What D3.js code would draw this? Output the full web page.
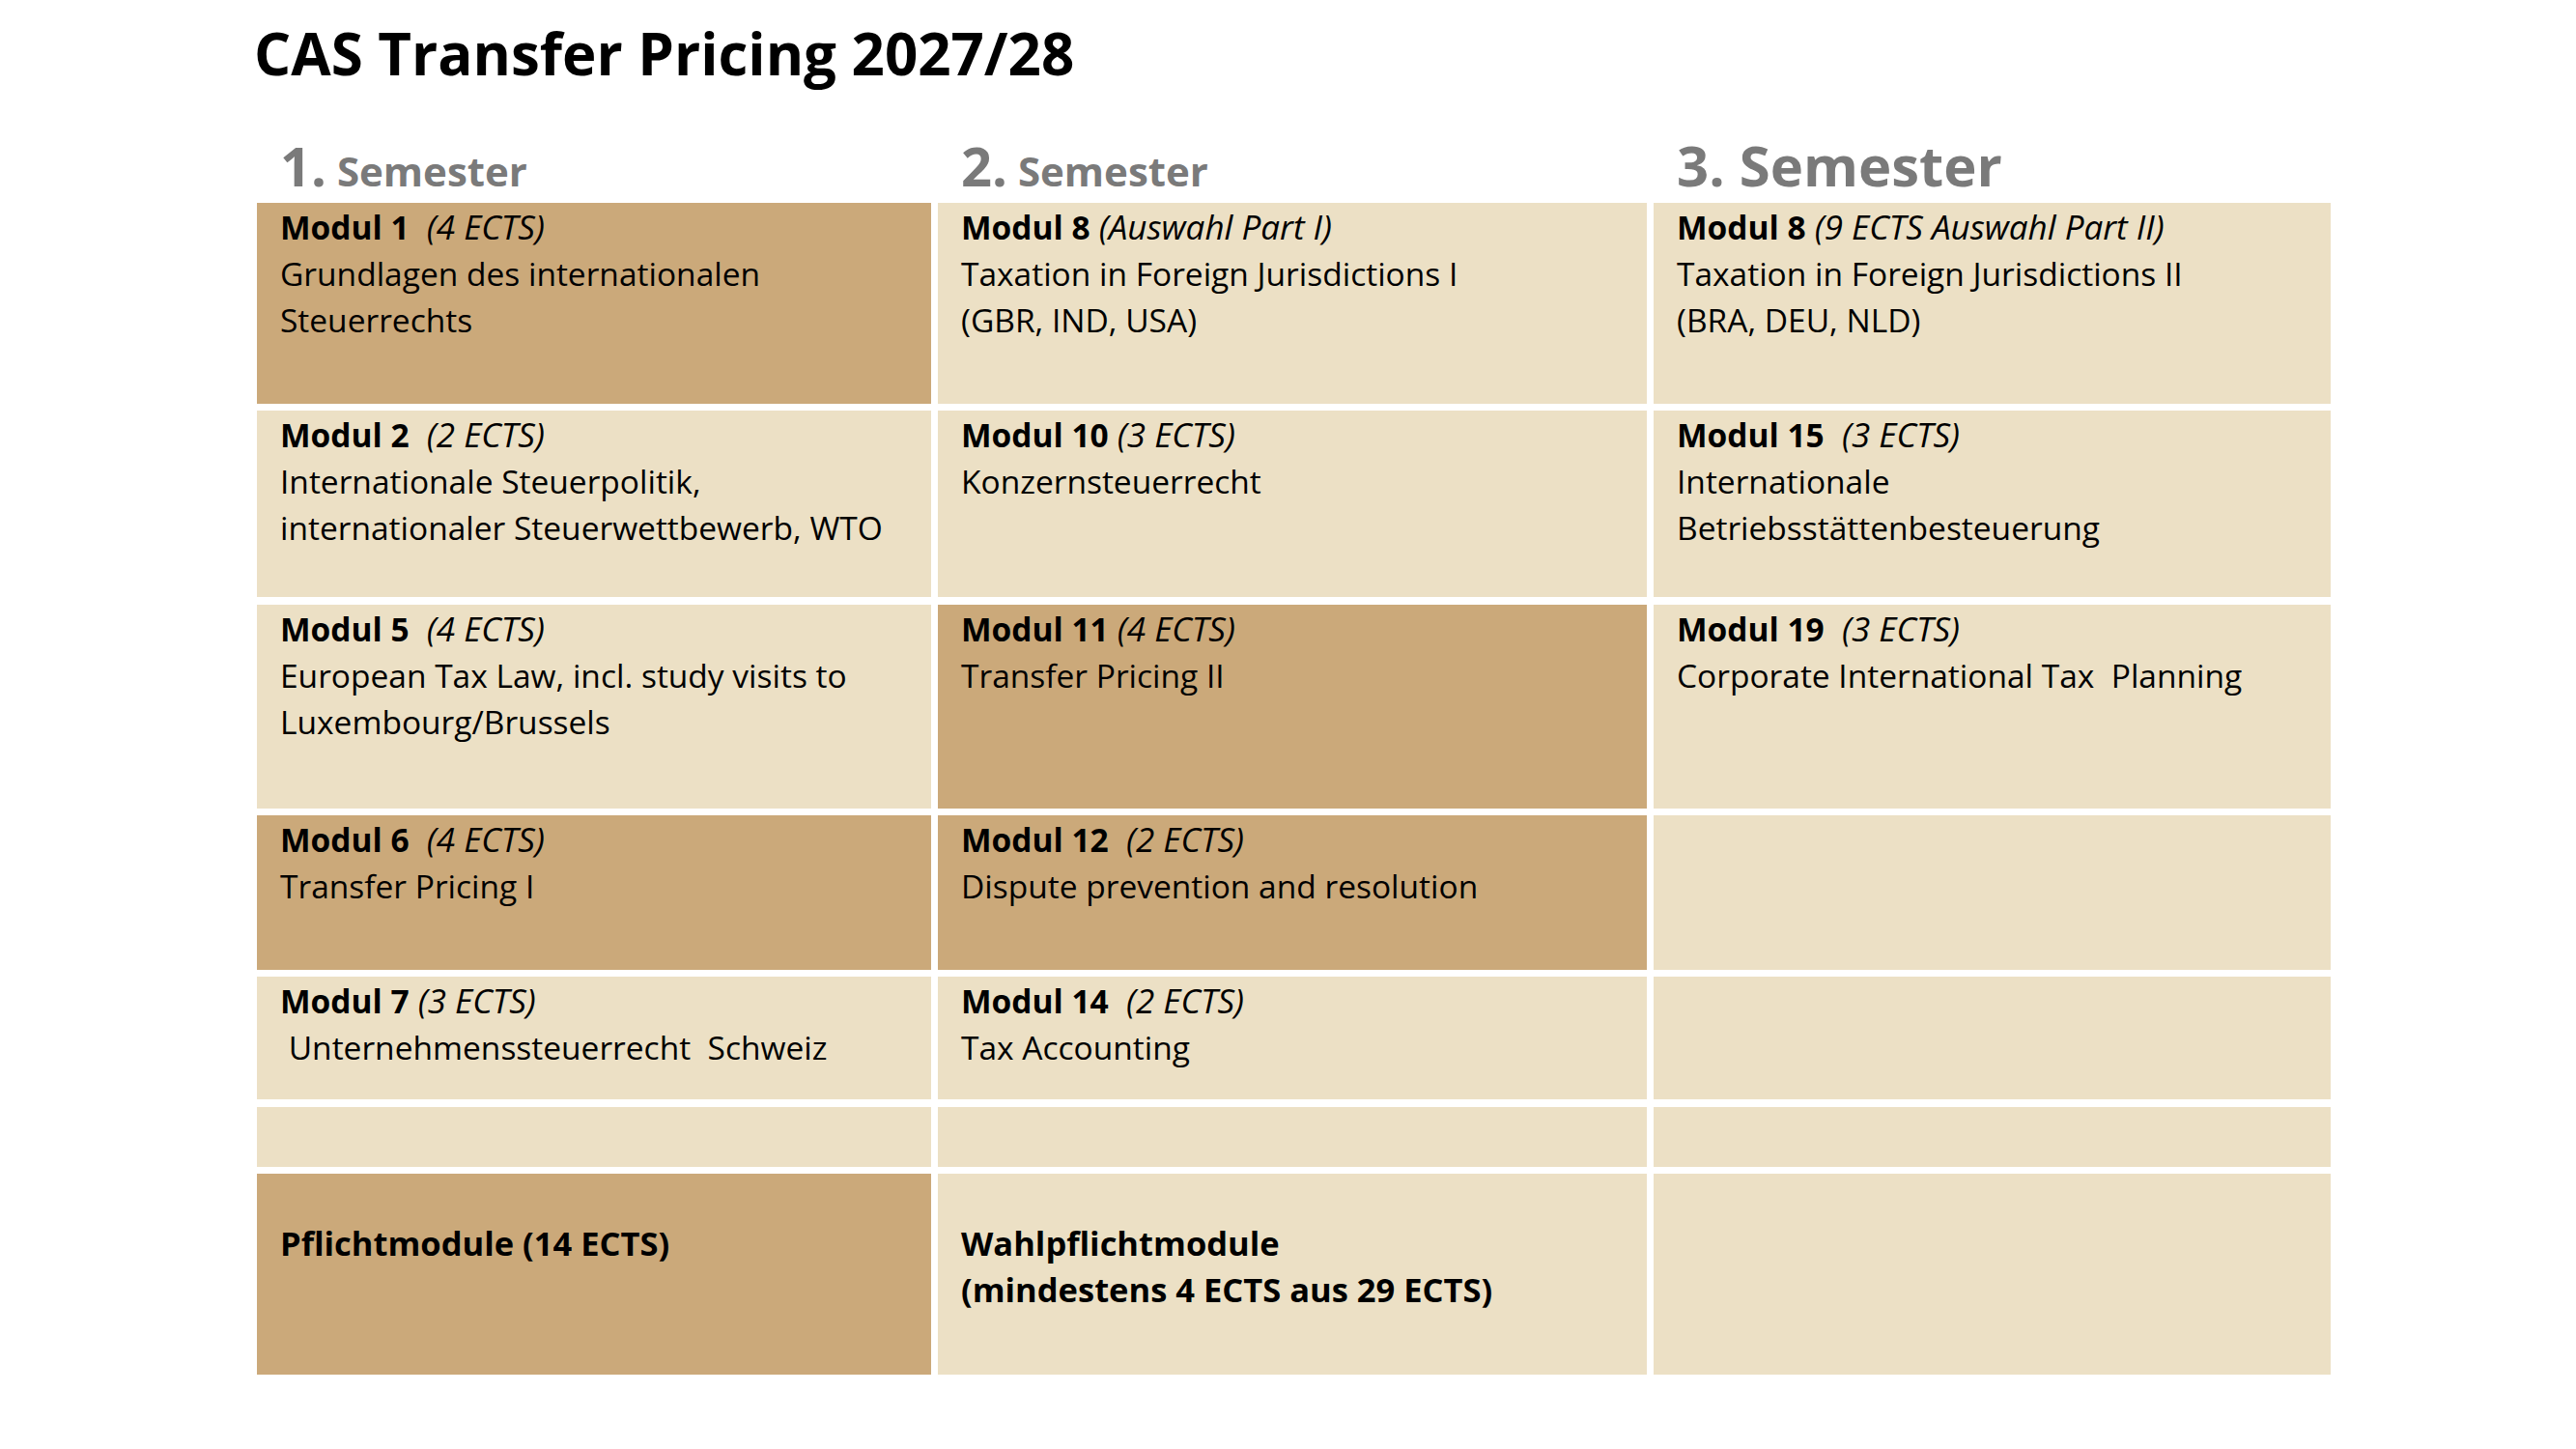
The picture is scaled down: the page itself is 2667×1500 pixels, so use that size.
<!DOCTYPE html>
<html>
<head>
  <meta charset="utf-8">
  <title>CAS Transfer Pricing 2027/28</title>
  <script src="https://d3js.org/d3.v7.min.js"></script>
  <style>
    body { margin: 0; background: #fff; }
    text { font-family: "Open Sans", Lato, sans-serif; white-space: pre; }
  </style>
</head>
<body>
<div id="vis"></div>
<script>
// Inhalte der Tabelle
var title = "CAS Transfer Pricing 2027/28";
var semesters = ["1.", "2.", "3."];
var semesterWord = "Semester";

// sem = Spalte, row = Zeile, dark = Pflichtmodul
var modules = [
  {sem: 0, row: 0, head: "Modul 1", note: "  (4 ECTS)", dark: true,
   lines: ["Grundlagen des internationalen", "Steuerrechts"]},
  {sem: 0, row: 1, head: "Modul 2", note: "  (2 ECTS)", dark: false,
   lines: ["Internationale Steuerpolitik,", "internationaler Steuerwettbewerb, WTO"]},
  {sem: 0, row: 2, head: "Modul 5", note: "  (4 ECTS)", dark: false,
   lines: ["European Tax Law, incl. study visits to", "Luxembourg/Brussels"]},
  {sem: 0, row: 3, head: "Modul 6", note: "  (4 ECTS)", dark: true,
   lines: ["Transfer Pricing I"]},
  {sem: 0, row: 4, head: "Modul 7", note: " (3 ECTS)", dark: false,
   lines: [" Unternehmenssteuerrecht  Schweiz"]},
  {sem: 1, row: 0, head: "Modul 8", note: " (Auswahl Part I)", dark: false,
   lines: ["Taxation in Foreign Jurisdictions I", "(GBR, IND, USA)"]},
  {sem: 1, row: 1, head: "Modul 10", note: " (3 ECTS)", dark: false,
   lines: ["Konzernsteuerrecht"]},
  {sem: 1, row: 2, head: "Modul 11", note: " (4 ECTS)", dark: true,
   lines: ["Transfer Pricing II"]},
  {sem: 1, row: 3, head: "Modul 12", note: "  (2 ECTS)", dark: true,
   lines: ["Dispute prevention and resolution"]},
  {sem: 1, row: 4, head: "Modul 14", note: "  (2 ECTS)", dark: false,
   lines: ["Tax Accounting"]},
  {sem: 2, row: 0, head: "Modul 8", note: " (9 ECTS Auswahl Part II)", dark: false,
   lines: ["Taxation in Foreign Jurisdictions II", "(BRA, DEU, NLD)"]},
  {sem: 2, row: 1, head: "Modul 15", note: "  (3 ECTS)", dark: false,
   lines: ["Internationale", "Betriebsstättenbesteuerung"]},
  {sem: 2, row: 2, head: "Modul 19", note: "  (3 ECTS)", dark: false,
   lines: ["Corporate International Tax  Planning"]}
];

// letzte Zeile: Legende
var summary = [
  {sem: 0, row: 6, dark: true,  lines: ["Pflichtmodule (14 ECTS)"]},
  {sem: 1, row: 6, dark: false, lines: ["Wahlpflichtmodule", "(mindestens 4 ECTS aus 29 ECTS)"]},
  {sem: 2, row: 6, dark: false, lines: []}
];

var nRows = 7;

// ---- Layout ----
var W = 2667, H = 1500;
var dunkel = "#cba97a", hell = "#ece0c5";

var colX = d3.scaleOrdinal().domain([0, 1, 2]).range([266, 971, 1712]);
var colW = d3.scaleOrdinal().domain([0, 1, 2]).range([698, 734, 701]);
var rowY = d3.scaleOrdinal().domain(d3.range(nRows)).range([210, 425, 626, 844, 1011, 1146, 1215]);
var rowH = d3.scaleOrdinal().domain(d3.range(nRows)).range([208, 193, 211, 160, 127, 62, 208]);

var padX = 24, firstBase = 38, lineH = 48, fs = 33.5;

var svg = d3.select("#vis").append("svg")
  .attr("width", W)
  .attr("height", H);

svg.append("text")
  .attr("x", 263)
  .attr("y", 78)
  .attr("font-size", 60)
  .attr("font-weight", 700)
  .attr("fill", "#000")
  .text(title);

// Hintergrund aller Zellen
var grid = [];
var alle = modules.concat(summary);
semesters.forEach(function(s, c) {
  d3.range(nRows).forEach(function(r) {
    var m = alle.find(function(d) { return d.sem === c && d.row === r; });
    grid.push({sem: c, row: r, dark: m ? m.dark : false});
  });
});

svg.selectAll("rect.cell").data(grid).enter().append("rect")
  .attr("class", "cell")
  .attr("x", function(d) { return colX(d.sem); })
  .attr("y", function(d) { return rowY(d.row); })
  .attr("width", function(d) { return colW(d.sem); })
  .attr("height", function(d) { return rowH(d.row); })
  .attr("fill", function(d) { return d.dark ? dunkel : hell; });

// Semester-Ueberschriften
var hdr = svg.selectAll("text.sem").data(semesters).enter().append("text")
  .attr("class", "sem")
  .attr("x", function(d, i) { return colX(i) + padX; })
  .attr("y", 193)
  .attr("fill", "#7a7a7a")
  .attr("font-weight", 700);

hdr.append("tspan")
  .attr("font-size", function(d, i) { return i === 2 ? 58 : 56; })
  .text(function(d) { return d; });
hdr.append("tspan")
  .attr("font-size", function(d, i) { return i === 2 ? 58 : 42; })
  .text(function(d) { return " " + semesterWord; });

// Modultexte
var cellG = svg.selectAll("g.mod").data(modules).enter().append("g")
  .attr("class", "mod")
  .attr("transform", function(d) {
    return "translate(" + (colX(d.sem) + padX) + "," + rowY(d.row) + ")";
  });

var headT = cellG.append("text")
  .attr("y", firstBase)
  .attr("font-size", fs)
  .attr("fill", "#000");
headT.append("tspan").attr("font-weight", 700).text(function(d) { return d.head; });
headT.append("tspan").attr("font-style", "italic").attr("font-size", 35)
  .text(function(d) { return d.note; });

cellG.selectAll("text.line").data(function(d) { return d.lines; }).enter().append("text")
  .attr("class", "line")
  .attr("y", function(d, i) { return firstBase + lineH * (i + 1); })
  .attr("font-size", fs)
  .attr("fill", "#000")
  .text(function(d) { return d; });

// Zusammenfassung unten
var sumG = svg.selectAll("g.sum").data(summary).enter().append("g")
  .attr("class", "sum")
  .attr("transform", function(d) {
    return "translate(" + (colX(d.sem) + padX) + "," + rowY(d.row) + ")";
  });

sumG.selectAll("text").data(function(d) { return d.lines; }).enter().append("text")
  .attr("y", function(d, i) { return 85 + lineH * i; })
  .attr("font-size", 34.5)
  .attr("font-weight", 700)
  .attr("fill", "#000")
  .text(function(d) { return d; });
</script>
</body>
</html>
